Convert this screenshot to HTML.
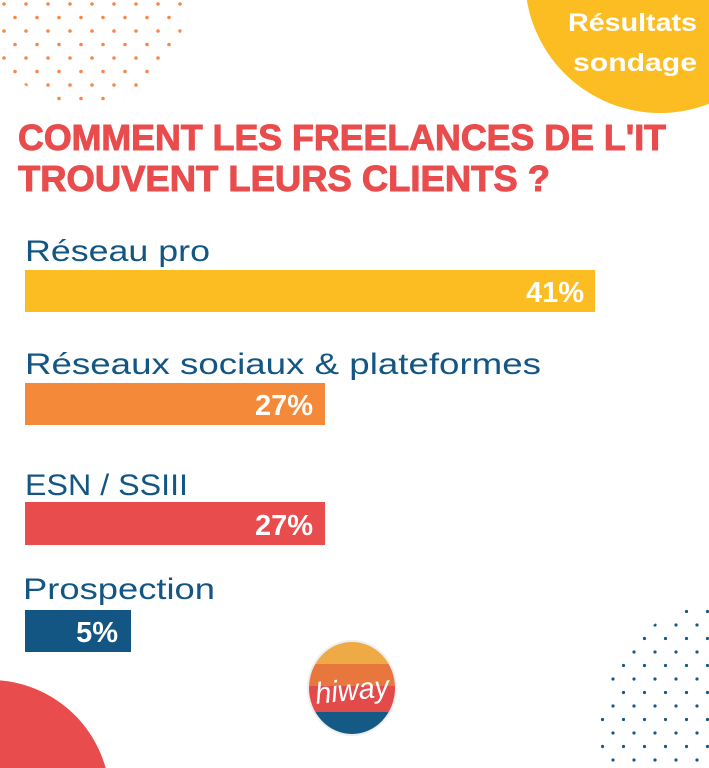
<!DOCTYPE html>
<html><head><meta charset="utf-8"><style>html,body{margin:0;padding:0;background:#fff;overflow:hidden;width:709px;height:768px}svg{display:block}</style></head><body>
<svg width="709" height="768" viewBox="0 0 709 768" xmlns="http://www.w3.org/2000/svg" font-family="Liberation Sans, sans-serif">
<defs>
<pattern id="po" width="22" height="27" patternUnits="userSpaceOnUse"><circle cx="4" cy="4" r="1.8" fill="#F5894A"/><circle cx="15" cy="17.5" r="1.8" fill="#F5894A"/></pattern>
<pattern id="pb" width="21" height="27" patternUnits="userSpaceOnUse"><circle cx="4" cy="4" r="1.6" fill="#155A85"/><circle cx="14.5" cy="17.5" r="1.6" fill="#155A85"/></pattern>
<clipPath id="cl"><ellipse cx="352" cy="688" rx="43" ry="46"/></clipPath>
</defs>
<circle cx="85" cy="5" r="100" fill="url(#po)"/>
<circle cx="730" cy="730" r="130" fill="url(#pb)"/>
<circle cx="660" cy="-22" r="135" fill="#FBBD22"/>
<text x="568" y="31" font-weight="bold" font-size="25" fill="#fff" textLength="129" lengthAdjust="spacingAndGlyphs">Résultats</text>
<text x="573" y="71" font-weight="bold" font-size="25" fill="#fff" textLength="124" lengthAdjust="spacingAndGlyphs">sondage</text>
<circle cx="-10" cy="800" r="120" fill="#E84C4C"/>
<text x="18" y="150" font-weight="bold" font-size="36" fill="#E84C4C" stroke="#E84C4C" stroke-width="1" textLength="648" lengthAdjust="spacingAndGlyphs">COMMENT LES FREELANCES DE L'IT</text>
<text x="18" y="191" font-weight="bold" font-size="36" fill="#E84C4C" stroke="#E84C4C" stroke-width="1" textLength="532" lengthAdjust="spacingAndGlyphs">TROUVENT LEURS CLIENTS ?</text>
<g font-size="30" fill="#135683">
<text x="25" y="261" textLength="185" lengthAdjust="spacingAndGlyphs">Réseau pro</text>
<text x="25" y="374" textLength="516" lengthAdjust="spacingAndGlyphs">Réseaux sociaux &amp; plateformes</text>
<text x="25" y="495" textLength="163" lengthAdjust="spacingAndGlyphs">ESN / SSIII</text>
<text x="23" y="599" textLength="192" lengthAdjust="spacingAndGlyphs">Prospection</text>
</g>
<rect x="25" y="270" width="570" height="42" fill="#FBBD22"/>
<rect x="25" y="383" width="300" height="42" fill="#F5893A"/>
<rect x="25" y="502" width="300" height="43" fill="#E84C4C"/>
<rect x="25" y="610" width="106" height="42" fill="#135683"/>
<g font-size="29" font-weight="bold" fill="#fff" text-anchor="end">
<text x="584" y="302">41%</text>
<text x="313" y="415">27%</text>
<text x="313" y="535">27%</text>
<text x="118" y="642">5%</text>
</g>
<ellipse cx="352" cy="688" rx="45" ry="48" fill="#eee"/>
<g clip-path="url(#cl)">
<rect x="300" y="640" width="110" height="24" fill="#EDAA45"/>
<rect x="300" y="664" width="110" height="22" fill="#E8773E"/>
<rect x="300" y="686" width="110" height="26" fill="#E24B4A"/>
<rect x="300" y="712" width="110" height="30" fill="#155A85"/>
</g>
<text x="352" y="700" text-anchor="middle" font-size="30" font-style="italic" fill="#fff" textLength="74" lengthAdjust="spacingAndGlyphs" transform="rotate(-6 352 690)">hiway</text>
</svg>
</body></html>
